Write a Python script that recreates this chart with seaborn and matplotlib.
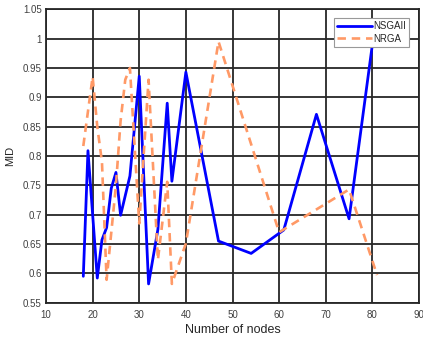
import matplotlib
matplotlib.use("Agg")
import matplotlib.pyplot as plt
import seaborn as sns
import pandas as pd

nsga_x = [18, 19, 21, 22, 23, 24, 25, 26, 28, 30, 32, 34, 36, 37, 40, 47, 54, 61, 68, 75, 80]
nsga_y = [0.595, 0.809, 0.592, 0.657, 0.678, 0.745, 0.772, 0.699, 0.766, 0.936, 0.582,
          0.675, 0.890, 0.757, 0.943, 0.655, 0.634, 0.674, 0.871, 0.693, 0.990]
nrga_x = [18, 20, 21, 22, 23, 25, 26, 27, 28, 30, 32, 34, 36, 37, 40, 47, 60, 75, 81]
nrga_y = [0.817, 0.935, 0.850, 0.790, 0.589, 0.750, 0.860, 0.930, 0.950, 0.685, 0.930,
          0.623, 0.756, 0.582, 0.651, 0.995, 0.670, 0.743, 0.597]

x_ticks = [10, 20, 30, 40, 50, 60, 70, 80, 90]
y_ticks = [0.55, 0.6, 0.65, 0.7, 0.75, 0.8, 0.85, 0.9, 0.95, 1.0, 1.05]
y_tick_labels = ["0.55", "0.6", "0.65", "0.7", "0.75", "0.8", "0.85", "0.9", "0.95", "1", "1.05"]

sns.set_style("white")
plt.rcParams['font.family'] = ['Liberation Sans', 'DejaVu Sans']

df_n = pd.DataFrame({"x": nsga_x, "y": nsga_y})
df_r = pd.DataFrame({"x": nrga_x, "y": nrga_y})

fig = plt.figure(figsize=(4.23, 3.43), dpi=100)
ax = fig.add_axes([46 / 423, 1 - 302.7 / 343, (419 - 46) / 423, (302.7 - 9.3) / 343])

sns.lineplot(data=df_n, x="x", y="y", ax=ax, color="#0000FF", lw=2.0,
             label="NSGAII", sort=False, zorder=3)
sns.lineplot(data=df_r, x="x", y="y", ax=ax, color="#FF9966", lw=1.9,
             label="NRGA", sort=False, zorder=3, dashes=False)
ax.lines[1].set_linestyle((0, (3.2, 2.2)))

ax.set_xlim(10, 90)
ax.set_ylim(0.55, 1.05)
ax.set_xticks(x_ticks)
ax.set_yticks(y_ticks)
ax.set_yticklabels(y_tick_labels)
ax.grid(True, color="#262626", lw=1.3, zorder=0)
ax.set_axisbelow(True)
ax.tick_params(length=0, labelsize=7, colors="#404040")
ax.tick_params(axis="x", pad=5)
ax.tick_params(axis="y", pad=3)
for s in ax.spines.values():
    s.set_color("#262626")
    s.set_linewidth(1.3)

ax.set_xlabel("Number of nodes", fontsize=9, color="#262626", labelpad=3)
ax.set_ylabel("MID", fontsize=8, color="#262626", labelpad=6)

leg = ax.legend(loc="upper right", bbox_to_anchor=(0.974, 0.969), borderaxespad=0,
                fontsize=7, handlelength=3.6, handletextpad=0.2, labelspacing=0.25,
                borderpad=0.3, fancybox=False, framealpha=1, edgecolor="#999999")
leg.get_frame().set_linewidth(0.8)
leg.get_lines()[1].set_linestyle((0, (3.2, 2.2)))

fig.savefig("out.png", dpi=100)
